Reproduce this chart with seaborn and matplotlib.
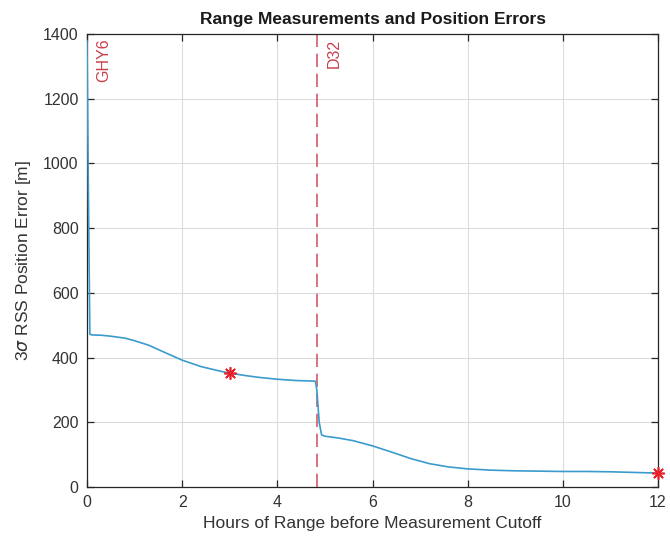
import matplotlib
matplotlib.use("Agg")
import matplotlib.pyplot as plt
import seaborn as sns
import pandas as pd

sns.set_theme(style="whitegrid")
plt.rcParams["font.family"] = ["Liberation Sans", "DejaVu Sans"]

# Position error history (hours of range vs 3-sigma RSS error)
hours = [0.0, 0.03, 0.06, 0.1, 0.3, 0.5, 0.8, 1.0, 1.3, 1.6, 2.0, 2.4, 2.8, 3.0, 3.3,
         3.6, 4.0, 4.4, 4.8, 4.83, 4.88, 4.93, 5.0, 5.3, 5.6, 6.0, 6.4, 6.8, 7.2,
         7.6, 8.0, 8.5, 9.0, 10.0, 10.5, 11.0, 11.5, 12.0]
error_m = [1380, 900, 472, 470, 469, 466, 460, 452, 438, 418, 392, 372, 358, 352, 345,
           339, 333, 329, 327, 300, 200, 161, 157, 151, 143, 127, 108, 88, 72,
           62, 56, 52, 50, 48, 48, 47, 45, 43]

# Measurement events
event_hours = [0.0, 4.83]
event_labels = ["GHY6", "D32"]

# Highlighted points
mark_hours = [3.0, 12.0]
mark_error = [352, 43]

df = pd.DataFrame({"hours": hours, "error": error_m})
marks = pd.DataFrame({"hours": mark_hours, "error": mark_error})

fig = plt.figure(figsize=(6.7, 5.46), dpi=100)
ax = fig.add_axes([87 / 670, 1 - 487 / 546, (658 - 87) / 670, (487 - 34) / 546])

red = "#c8404c"
for h, lab in zip(event_hours, event_labels):
    ax.axvline(h, color=red, linestyle=(0, (8, 4)), linewidth=1.2, alpha=0.85, zorder=2)
    ax.text(h + 0.2, 1385, lab, rotation=90, color=red, fontsize=11.5,
            ha="left", va="top", zorder=4)

sns.lineplot(data=df, x="hours", y="error", ax=ax, color="#3a9bcc",
             linewidth=1.2, zorder=3)
sns.scatterplot(data=marks, x="hours", y="error", ax=ax, marker=(8, 2, 0),
                s=70, color="#e8202a", edgecolor="#e8202a", linewidth=1.2,
                zorder=5, clip_on=False)

ax.set_xlim(0, 12)
ax.set_ylim(0, 1400)
ax.set_xticks(range(0, 13, 2))
ax.set_yticks(range(0, 1401, 200))

ax.set_facecolor("white")
ax.grid(True, color="#dcdcdc", linewidth=0.8)
for sp in ax.spines.values():
    sp.set_visible(True)
    sp.set_color("#262626")
    sp.set_linewidth(0.9)
ax.tick_params(direction="in", length=5, width=0.9, colors="#262626",
               labelsize=11.5, labelcolor="#333333", bottom=True, left=True,
               top=True, right=True, pad=6)

ax.set_xlabel("Hours of Range before Measurement Cutoff", fontsize=12.5,
              color="#333333", labelpad=4)
ax.set_ylabel(r"3$\sigma$ RSS Position Error [m]", fontsize=12.5,
              color="#333333", labelpad=7)
ax.set_title("Range Measurements and Position Errors", fontsize=12.5,
             fontweight="bold", color="#1a1a1a", pad=7)

fig.savefig("out.png", dpi=100, facecolor="white")
